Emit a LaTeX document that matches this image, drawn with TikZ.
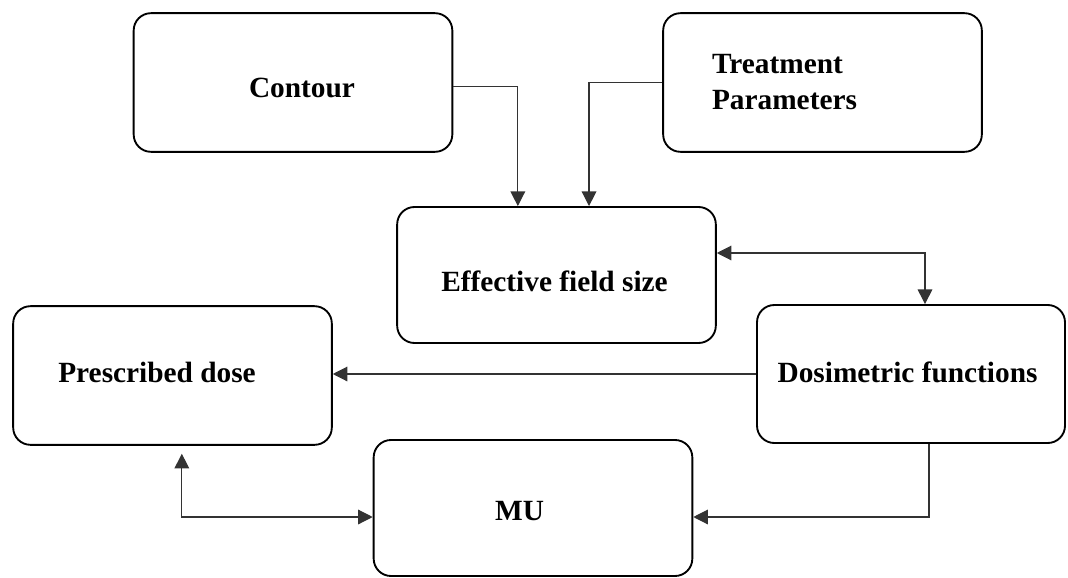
\documentclass[tikz,border=0pt]{standalone}
\usepackage{fontspec}
\setmainfont{Liberation Serif}
\usetikzlibrary{arrows.meta, positioning}
\definecolor{linegray}{HTML}{333333}

\begin{document}
\begin{tikzpicture}[x=0.75pt, y=-0.75pt,
  box/.style={rectangle, rounded corners=13pt, draw=black, line width=1.4pt, minimum width=239pt, minimum height=104pt, inner sep=0pt},
  txt/.style={font=\fontsize{22}{27}\selectfont\bfseries, align=left, inner sep=0pt},
  conn/.style={draw=linegray, line width=0.9pt, -{Triangle[length=11pt, width=11pt]}}]
\useasboundingbox (0,0) rectangle (1068,578);
% boxes, with the text placed as in the figure
\node[box, label={[txt, xshift=6.75pt, yshift=-4pt]center:Contour}] (contour) at (293,82.5) {};
\node[box, label={[txt, xshift=-28.5pt]center:Treatment\\Parameters}] (treat) at (822.5,82.5) {};
\node[box, minimum height=102pt, label={[txt, xshift=-1.5pt, yshift=-4.5pt]center:Effective field size}] (efs) at (556.5,275) {};
\node[box, label={[txt, xshift=-11.6pt, yshift=2.6pt]center:Prescribed dose}] (presc) at (172.5,375.5) {};
\node[box, minimum width=231pt, minimum height=103.5pt, label={[txt, xshift=-2.6pt, yshift=1.5pt]center:Dosimetric functions}] (dosi) at (911,374) {};
\node[box, minimum height=102pt, label={[txt, xshift=-10pt, yshift=-2.3pt]center:MU}] (mu) at (533,508) {};

\draw[conn] ([yshift=-3pt]contour.east) -| ([xshift=-29pt]efs.north);
\draw[conn] (treat.west) -| ([xshift=24.4pt]efs.north);
\draw[conn, {Triangle[length=11pt, width=11pt]}-{Triangle[length=11pt, width=11pt]}] ([yshift=16.5pt]efs.east) -| ([xshift=10.5pt]dosi.north);
\draw[conn] (dosi.west) -- (dosi.west -| presc.east);
\draw[conn, {Triangle[length=11pt, width=11pt]}-{Triangle[length=11pt, width=11pt]}] ([xshift=7pt, yshift=-6pt]presc.south) |- ([yshift=-6.75pt]mu.west);
\draw[conn] ([xshift=13.5pt]dosi.south) |- ([yshift=-6.75pt]mu.east);
\end{tikzpicture}
\end{document}
